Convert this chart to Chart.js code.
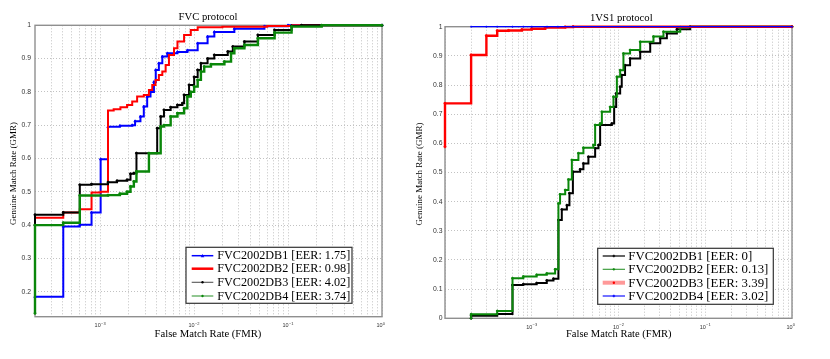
<!DOCTYPE html>
<html><head><meta charset="utf-8">
<script src="https://cdn.jsdelivr.net/npm/chart.js@4.4.1/dist/chart.umd.min.js"></script>
<style>
html,body{margin:0;padding:0;background:#fff;width:830px;height:359px;overflow:hidden}
.p{position:absolute;top:0;width:415px;height:359px}
</style>
</head><body>
<div class="p" style="left:0"><canvas id="c1" width="415" height="359"></canvas></div>
<div class="p" style="left:415px"><canvas id="c2" width="415" height="359"></canvas></div>
<script>
// ---------- DATA : FVC protocol (left) ----------
const fvcTitle = "FVC protocol";
const fvcLabels = ["FVC2002DB1 [EER: 1.75]","FVC2002DB2 [EER: 0.98]","FVC2002DB3 [EER: 4.02]","FVC2002DB4 [EER: 3.74]"];
const fvcDb1Fmr = [2.02e-4,4.04e-4,6.06e-4,8.08e-4,1.01e-3,1.21e-3,1.62e-3,2.19e-3,2.35e-3,2.68e-3,2.91e-3,3.16e-3,3.43e-3,3.73e-3,3.9e-3,4.21e-3,4.58e-3,5.19e-3,6.64e-3,8.49e-3,1.09e-2,1.39e-2,1.64e-2,2.68e-2,5.6e-2,0.1,1];
const fvcDb1Gmr = [0.185,0.396,0.401,0.438,0.598,0.695,0.698,0.700,0.712,0.726,0.756,0.786,0.800,0.830,0.866,0.886,0.906,0.916,0.920,0.925,0.946,0.966,0.980,0.990,0.997,1.0,1.0];
const fvcDb2Fmr = [2.02e-4,4.04e-4,6.06e-4,8.08e-4,1.01e-3,1.21e-3,1.39e-3,1.64e-3,1.93e-3,2.19e-3,2.47e-3,2.91e-3,3.30e-3,3.58e-3,3.88e-3,4.21e-3,4.58e-3,4.97e-3,5.39e-3,6.10e-3,6.64e-3,7.81e-3,9.21e-3,1.09e-2,2.0e-2,6.0e-2,0.11,1];
const fvcDb2Gmr = [0.422,0.438,0.448,0.498,0.500,0.744,0.748,0.754,0.761,0.771,0.786,0.791,0.806,0.821,0.836,0.851,0.861,0.881,0.911,0.931,0.951,0.971,0.986,0.994,0.996,0.998,1.0,1.0];
const fvcDb3Fmr = [2.02e-4,2.02e-4,4.04e-4,6.06e-4,8.08e-4,1.21e-3,1.51e-3,1.93e-3,2.10e-3,2.28e-3,2.43e-3,4.04e-3,4.40e-3,4.77e-3,5.62e-3,6.64e-3,7.50e-3,7.81e-3,8.83e-3,1.0e-2,1.09e-2,1.18e-2,1.39e-2,1.64e-2,2.28e-2,2.58e-2,3.43e-2,4.77e-2,7.19e-2,0.109,0.139,1];
const fvcDb3Gmr = [0.400,0.431,0.438,0.521,0.523,0.529,0.533,0.536,0.554,0.556,0.616,0.691,0.726,0.746,0.754,0.761,0.766,0.791,0.821,0.845,0.866,0.886,0.900,0.911,0.921,0.936,0.951,0.971,0.986,0.998,1.0,1.0];
const fvcDb4Fmr = [2.02e-4,2.02e-4,4.04e-4,6.06e-4,1.21e-3,1.62e-3,1.93e-3,2.10e-3,2.28e-3,2.43e-3,3.30e-3,4.40e-3,4.77e-3,5.62e-3,6.64e-3,7.81e-3,8.46e-3,9.21e-3,1.0e-2,1.09e-2,1.18e-2,1.28e-2,1.51e-2,2.10e-2,2.47e-2,2.68e-2,3.43e-2,4.77e-2,7.19e-2,0.109,0.228,1];
const fvcDb4Gmr = [0.135,0.400,0.407,0.489,0.490,0.494,0.500,0.516,0.531,0.561,0.616,0.696,0.700,0.726,0.736,0.751,0.786,0.800,0.816,0.836,0.861,0.876,0.883,0.891,0.916,0.931,0.941,0.961,0.978,0.996,1.0,1.0];
const fvcYTicks = [0.2,0.3,0.4,0.5,0.6,0.7,0.8,0.9,1];

// ---------- DATA : 1VS1 protocol (right) ----------
const ivsTitle = "1VS1 protocol";
const ivsLabels = ["FVC2002DB1 [EER: 0]","FVC2002DB2 [EER: 0.13]","FVC2002DB3 [EER: 3.39]","FVC2002DB4 [EER: 3.02]"];
const ivsDb1Fmr = [2.0e-4,2.0e-4,4.0e-4,6.0e-4,8.0e-4,1.14e-3,1.49e-3,1.78e-3,2.03e-3,2.22e-3,2.54e-3,2.72e-3,2.98e-3,3.61e-3,3.94e-3,4.50e-3,5.38e-3,5.88e-3,6.14e-3,8.38e-3,8.91e-3,9.40e-3,1.045e-2,1.09e-2,1.19e-2,1.36e-2,1.78e-2,2.32e-2,3.03e-2,3.61e-2,4.71e-2,6.71e-2,1];
const ivsDb1Gmr = [0.0,0.009,0.015,0.114,0.117,0.121,0.130,0.136,0.337,0.373,0.388,0.429,0.503,0.511,0.531,0.554,0.583,0.594,0.663,0.668,0.725,0.771,0.794,0.834,0.868,0.891,0.914,0.943,0.960,0.977,0.991,1.0,1.0];
const ivsDb2Fmr = [2.0e-4,2.0e-4,4.0e-4,6.0e-4,8.0e-4,1.14e-3,1.49e-3,1.86e-3,2.03e-3,2.12e-3,2.43e-3,2.65e-3,2.90e-3,3.45e-3,3.94e-3,5.14e-3,5.38e-3,6.14e-3,6.43e-3,8.01e-3,8.75e-3,9.58e-3,1.045e-2,1.14e-2,1.36e-2,1.78e-2,2.53e-2,3.30e-2,5.15e-2,6.71e-2,1];
const ivsDb2Gmr = [0.0,0.014,0.025,0.137,0.143,0.149,0.154,0.168,0.394,0.425,0.440,0.476,0.543,0.566,0.585,0.594,0.663,0.668,0.708,0.725,0.760,0.828,0.851,0.908,0.920,0.948,0.966,0.983,0.998,1.0,1.0];
const ivsDb3Fmr = [1.0e-4,1.0e-4,2.0e-4,3.0e-4,4.0e-4,5.4e-4,7.7e-4,1.0e-3,1.43e-3,2.43e-3,3.0e-3,1];
const ivsDb3Gmr = [0.588,0.737,0.903,0.969,0.986,0.987,0.990,0.993,0.997,0.999,1.0,1.0];
const ivsDb4Fmr = [2.0e-4,3.0e-4,4.0e-4,6.0e-4,8.0e-4,1.0e-3,1.5e-3,2.0e-3,3.0e-3,1];
const ivsDb4Gmr = [1.0,1.0,1.0,1.0,1.0,1.0,1.0,1.0,1.0,1.0];
const ivsYTicks = [0,0.1,0.2,0.3,0.4,0.5,0.6,0.7,0.8,0.9,1];

const xTickExps = [-3,-2,-1,0];
const xLabelText = "False Match Rate (FMR)";
const yLabelText = "Genuine Match Rate (GMR)";

// ---------- helpers ----------
function pts(xs, ys){ return xs.map((x,i)=>({x:x, y:ys[i]})); }
function logGrid(min){
  const g=[];
  for(let e=-4;e<0;e++) for(let m=1;m<=9;m++){ const v=m*Math.pow(10,e); if(v>=min*0.999) g.push(v); }
  g.push(1); return g;
}
function fitFont(ctx, text, family, w){
  ctx.font = "100px " + family;
  return 100 * w / ctx.measureText(text).width;
}
function drawMarker(ctx, type, x, y, color, r){
  ctx.save(); ctx.fillStyle=color; ctx.strokeStyle=color; ctx.lineWidth=1;
  if(type==='triangle'){ ctx.beginPath(); ctx.moveTo(x,y-r); ctx.lineTo(x+r,y+r*0.8); ctx.lineTo(x-r,y+r*0.8); ctx.closePath(); ctx.fill(); }
  else if(type==='dot'){ ctx.beginPath(); ctx.arc(x,y,r,0,Math.PI*2); ctx.fill(); }
  else if(type==='plus'){ ctx.beginPath(); ctx.moveTo(x-r,y); ctx.lineTo(x+r,y); ctx.moveTo(x,y-r); ctx.lineTo(x,y+r); ctx.stroke(); }
  ctx.restore();
}

const framePlugin = {
  id:'frame',
  beforeDatasetsDraw(chart){
    const {ctx, chartArea:a} = chart;
    ctx.save(); ctx.strokeStyle='#8f8f8f'; ctx.lineWidth=1.4;
    ctx.strokeRect(a.left, a.top, a.right-a.left, a.bottom-a.top);
    ctx.restore();
  }
};

function annPlugin(cfg){
  return {
    id:'ann',
    afterDraw(chart){
      const ctx = chart.ctx; const a = chart.chartArea; const xs = chart.scales.x;
      ctx.save();
      ctx.fillStyle='#000'; ctx.textAlign='center'; ctx.textBaseline='middle';
      let s = fitFont(ctx, cfg.title, '"Liberation Serif"', cfg.titleW);
      ctx.font = s.toFixed(2)+'px "Liberation Serif"';
      ctx.fillText(cfg.title, cfg.titleX, cfg.titleY);
      s = fitFont(ctx, xLabelText, '"Liberation Serif"', cfg.xlabW);
      ctx.font = s.toFixed(2)+'px "Liberation Serif"';
      ctx.fillText(xLabelText, cfg.xlabX, cfg.xlabY);
      s = fitFont(ctx, yLabelText, '"Liberation Serif"', cfg.ylabW);
      ctx.font = s.toFixed(2)+'px "Liberation Serif"';
      ctx.save(); ctx.translate(cfg.ylabX, cfg.ylabY); ctx.rotate(-Math.PI/2);
      ctx.fillText(yLabelText, 0, 0); ctx.restore();
      ctx.fillStyle='#333';
      xTickExps.forEach(k=>{
        const px = xs.getPixelForValue(Math.pow(10,k));
        ctx.textAlign='right'; ctx.textBaseline='alphabetic';
        ctx.font='5.5px "Liberation Sans"';
        ctx.fillText('10', px+0.5, a.bottom+10.5);
        ctx.textAlign='left';
        ctx.font='4px "Liberation Sans"';
        ctx.fillText(k===0?'0':'\u2212'+(-k), px+0.8, a.bottom+8);
      });
      const L = cfg.legend;
      ctx.fillStyle='#fff'; ctx.fillRect(L.x0, L.y0, L.x1-L.x0, L.y1-L.y0);
      ctx.strokeStyle='#333'; ctx.lineWidth=1.2; ctx.strokeRect(L.x0, L.y0, L.x1-L.x0, L.y1-L.y0);
      const fs = fitFont(ctx, cfg.labels[0], '"Liberation Serif"', L.textW);
      cfg.labels.forEach((lab,i)=>{
        const st = L.styles[i]; const y = L.rows[i];
        ctx.save(); ctx.strokeStyle=st.color; ctx.lineWidth=st.width;
        ctx.beginPath(); ctx.moveTo(L.lx0,y); ctx.lineTo(L.lx1,y); ctx.stroke(); ctx.restore();
        if(st.marker) drawMarker(ctx, st.marker, (L.lx0+L.lx1)/2, y, st.mcolor, st.mr);
        ctx.fillStyle='#000'; ctx.textAlign='left'; ctx.textBaseline='middle';
        ctx.font = fs.toFixed(2)+'px "Liberation Serif"';
        ctx.fillText(lab, L.tx, y+0.5);
      });
      ctx.restore();
    }
  };
}

function makeChart(id, cfg){
  const gridOpts = {color:'#c2c2c2', lineWidth:1, drawTicks:false};
  new Chart(document.getElementById(id), {
    type:'line',
    data:{datasets: cfg.series.map(s=>({
      label:s.label, data:pts(s.x,s.y), borderColor:s.color, backgroundColor:s.color,
      borderWidth:s.width, stepped:'before', pointRadius:s.pr, pointStyle:s.ps,
      pointBorderWidth:0.8, pointBorderColor:s.color, pointBackgroundColor:s.color,
      order:s.order, fill:false, tension:0, clip:4
    }))},
    options:{
      responsive:false, animation:false, events:[],
      layout:{padding:{left:0, right:cfg.padR, top:cfg.padT, bottom:0}},
      plugins:{legend:{display:false}, tooltip:{enabled:false}, title:{display:false}},
      scales:{
        x:{type:'logarithmic', min:cfg.xmin, max:1,
           afterFit(sc){ sc.height = cfg.xh; },
           afterBuildTicks(sc){ sc.ticks = logGrid(cfg.xmin).map(v=>({value:v})); },
           ticks:{display:false, autoSkip:false},
           grid:gridOpts, border:{display:false, dash:[1,2]}},
        y:{type:'linear', min:cfg.ymin, max:1,
           afterFit(sc){ sc.width = cfg.yw; },
           afterBuildTicks(sc){ sc.ticks = cfg.yticks.map(v=>({value:v})); },
           ticks:{autoSkip:false, padding:cfg.ypad, color:'#333',
                  font:{family:'"Liberation Sans"', size:6.8},
                  callback:(v)=> (v===1?'1':(v===0?'0':Number(v).toFixed(1)))},
           grid:gridOpts, border:{display:false, dash:[1,2]}}
      }
    },
    plugins:[framePlugin, annPlugin(cfg)]
  });
}

const BLUE='#0000ff', RED='#ff0000', BLACK='#000000', GREEN='#0a870a';

makeChart('c1', {
  xmin:2.02e-4, ymin:0.125, yticks:fvcYTicks,
  yw:35, padR:33, padT:25.3, xh:42.3, ypad:4,
  title:fvcTitle, titleX:208, titleY:16.7, titleW:59,
  xlabX:208, xlabY:334.3, xlabW:107,
  ylabX:13.3, ylabY:173.5, ylabW:103,
  labels:fvcLabels,
  series:[
    {label:fvcLabels[0], x:fvcDb1Fmr, y:fvcDb1Gmr, color:BLUE, width:2, pr:1.4, ps:'triangle', order:3},
    {label:fvcLabels[1], x:fvcDb2Fmr, y:fvcDb2Gmr, color:RED, width:2, pr:0, ps:'circle', order:2},
    {label:fvcLabels[2], x:fvcDb3Fmr, y:fvcDb3Gmr, color:BLACK, width:2, pr:1.1, ps:'circle', order:1},
    {label:fvcLabels[3], x:fvcDb4Fmr, y:fvcDb4Gmr, color:GREEN, width:2.4, pr:1.1, ps:'circle', order:0}
  ],
  legend:{x0:186, y0:247.3, x1:352, y1:303.3, lx0:191.7, lx1:213.3, tx:217.3, textW:133,
    rows:[255.7,268.7,282.3,296],
    styles:[
      {color:BLUE, width:1.5, marker:'triangle', mcolor:BLUE, mr:1.8},
      {color:RED, width:2.5, marker:null},
      {color:'#555', width:1.1, marker:'dot', mcolor:'#000', mr:1.2},
      {color:'#3a9a3a', width:1.1, marker:'dot', mcolor:GREEN, mr:1.2}
    ]}
});

makeChart('c2', {
  xmin:1e-4, ymin:0, yticks:ivsYTicks,
  yw:30, padR:38, padT:26.7, xh:40.7, ypad:2.5,
  title:ivsTitle, titleX:206.3, titleY:17.7, titleW:62.7,
  xlabX:203.8, xlabY:334.3, xlabW:105.7,
  ylabX:5, ylabY:174, ylabW:103,
  labels:ivsLabels,
  series:[
    {label:ivsLabels[0], x:ivsDb1Fmr, y:ivsDb1Gmr, color:BLACK, width:2, pr:1.0, ps:'circle', order:3},
    {label:ivsLabels[1], x:ivsDb2Fmr, y:ivsDb2Gmr, color:GREEN, width:2, pr:1.0, ps:'circle', order:2},
    {label:ivsLabels[2], x:ivsDb3Fmr, y:ivsDb3Gmr, color:RED, width:2.4, pr:1.1, ps:'circle', order:1},
    {label:ivsLabels[3], x:ivsDb4Fmr, y:ivsDb4Gmr, color:BLUE, width:1.3, pr:1.0, ps:'cross', order:0}
  ],
  legend:{x0:182.7, y0:248.3, x1:358.3, y1:304.3, lx0:187.7, lx1:210, tx:213.3, textW:124,
    rows:[256,269.3,282.7,296],
    styles:[
      {color:'#555', width:1.8, marker:'plus', mcolor:'#000', mr:1.3},
      {color:'#2f952f', width:1.1, marker:'plus', mcolor:GREEN, mr:1.3},
      {color:'rgba(255,0,0,0.4)', width:4, marker:'dot', mcolor:RED, mr:1.2},
      {color:BLUE, width:1.1, marker:'plus', mcolor:BLUE, mr:1.3}
    ]}
});
</script>
</body></html>
